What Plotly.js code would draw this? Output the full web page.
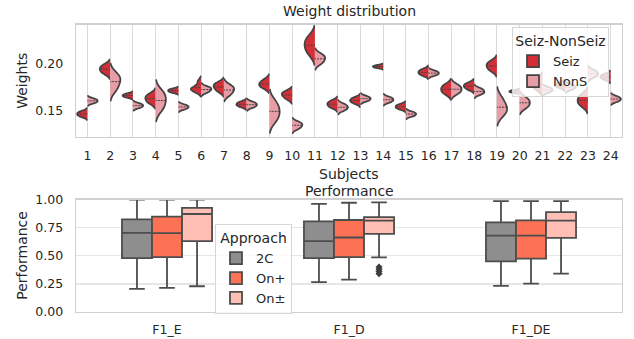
<!DOCTYPE html>
<html><head><meta charset="utf-8">
<script src="https://cdn.plot.ly/plotly-3.0.1.min.js"></script>
<style>html,body{margin:0;padding:0;background:#fff}#chart{width:634px;height:339px}</style>
</head><body><div id="chart"></div>
<script>
// ---------- Top panel: weight distribution per subject ----------
const subjects = ['1','2','3','4','5','6','7','8','9','10','11','12','13','14','15','16','17','18','19','20','21','22','23','24'];
const seizSamples = [
  [0.1440,0.1454,0.1468,0.1482,0.1496],
  [0.1892,0.1915,0.1940,0.1961,0.1984],
  [0.1643,0.1652,0.1662,0.1672,0.1681],
  [0.1582,0.1606,0.1632,0.1654,0.1678],
  [0.1694,0.1703,0.1713,0.1723,0.1732],
  [0.1705,0.1722,0.1735,0.1750,0.1810],
  [0.1705,0.1729,0.1758,0.1775,0.1795],
  [0.1543,0.1557,0.1570,0.1583,0.1597],
  [0.1740,0.1762,0.1782,0.1800,0.1830],
  [0.1625,0.1650,0.1672,0.1690,0.1705],
  [0.2095,0.2145,0.2192,0.2235,0.2280],
  [0.1535,0.1553,0.1572,0.1589,0.1607],
  [0.1579,0.1595,0.1610,0.1625,0.1641],
  [0.1952,0.1959,0.1966,0.1973,0.1980],
  [0.1518,0.1531,0.1544,0.1557,0.1570],
  [0.1873,0.1889,0.1905,0.1921,0.1937],
  [0.1677,0.1702,0.1727,0.1752,0.1777],
  [0.1726,0.1743,0.1762,0.1777,0.1794],
  [0.1922,0.1947,0.1975,0.1997,0.2022],
  [0.1691,0.1698,0.1705,0.1712,0.1719],
  [0.1726,0.1753,0.1780,0.1807,0.1834],
  [0.1745,0.1758,0.1772,0.1786,0.1799],
  [0.1551,0.1582,0.1610,0.1644,0.1675],
  [0.1828,0.1844,0.1858,0.1872,0.1888]
];
const nonsSamples = [
  [0.1582,0.1594,0.1606,0.1618,0.1630],
  [0.1715,0.1765,0.1820,0.1850,0.1890],
  [0.1532,0.1544,0.1556,0.1568,0.1580],
  [0.1510,0.1560,0.1615,0.1660,0.1705],
  [0.1518,0.1530,0.1542,0.1554,0.1566],
  [0.1692,0.1710,0.1728,0.1740,0.1754],
  [0.1665,0.1695,0.1725,0.1745,0.1770],
  [0.1537,0.1551,0.1566,0.1580,0.1594],
  [0.1395,0.1445,0.1495,0.1545,0.1600],
  [0.1312,0.1332,0.1352,0.1368,0.1384],
  [0.1995,0.2022,0.2050,0.2072,0.2095],
  [0.1505,0.1522,0.1539,0.1556,0.1573],
  [0.1603,0.1616,0.1629,0.1642,0.1655],
  [0.1590,0.1604,0.1618,0.1632,0.1646],
  [0.1444,0.1456,0.1468,0.1480,0.1492],
  [0.1873,0.1885,0.1897,0.1909,0.1921],
  [0.1682,0.1705,0.1728,0.1751,0.1774],
  [0.1673,0.1689,0.1703,0.1721,0.1737],
  [0.1455,0.1500,0.1530,0.1575,0.1640],
  [0.1532,0.1559,0.1586,0.1613,0.1640],
  [0.1693,0.1706,0.1720,0.1734,0.1747],
  [0.1723,0.1736,0.1750,0.1764,0.1777],
  [0.1854,0.1872,0.1890,0.1908,0.1926],
  [0.1597,0.1611,0.1625,0.1639,0.1653]
];
const classNames = ['Seiz','NonS'];
const classColors = ['#d42f37','#e89ca6'];

// ---------- Bottom panel: performance ----------
const metrics = ['F1_E','F1_D','F1_DE'];
const approaches = ['2C','On+','On\u00b1'];
const approachColors = ['#8e8e8e','#fd7254','#ffbfb4'];
const lowerFence = [[0.206,0.266,0.232],[0.214,0.288,0.253],[0.229,0.485,0.341]];
const q1Vals     = [[0.479,0.479,0.450],[0.488,0.488,0.474],[0.630,0.694,0.659]];
const medianVals = [[0.704,0.630,0.679],[0.702,0.662,0.679],[0.871,0.812,0.812]];
const q3Vals     = [[0.824,0.805,0.797],[0.847,0.818,0.815],[0.926,0.844,0.888]];
const upperFence = [[1.0,0.962,0.985],[1.0,0.971,0.985],[1.0,0.974,0.985]];
// outliers: [approach index, metric index, value]
const outlierApproach = [2, 2, 2, 2];
const outlierMetric   = [1, 1, 1, 1];
const outlierValues   = [0.400, 0.380, 0.360, 0.340];

const BOXGAP = 0.505;
const lineCol = '#434343';
const traces = [];
[seizSamples, nonsSamples].forEach((samples, k) => {
  subjects.forEach((s, i) => {
    traces.push({
      type: 'violin', xaxis: 'x', yaxis: 'y', legend: 'legend',
      x: samples[i].map(() => s), y: samples[i],
      name: classNames[k], showlegend: i === 0,
      side: k === 0 ? 'negative' : 'positive',
      scalegroup: classNames[k] + s, scalemode: 'width', width: 0.9,
      spanmode: 'soft', points: false,
      fillcolor: classColors[k], line: {color: lineCol, width: 1.75},
      meanline: {visible: true, color: lineCol, width: 1},
      box: {visible: false}, hoverinfo: 'skip'
    });
  });
});
approaches.forEach((a, k) => {
  traces.push({
    type: 'box', xaxis: 'x2', yaxis: 'y2', legend: 'legend2',
    name: a, x: metrics,
    lowerfence: lowerFence[k], q1: q1Vals[k], median: medianVals[k],
    q3: q3Vals[k], upperfence: upperFence[k],
    boxpoints: false,
    fillcolor: approachColors[k], line: {color: '#4d4d4d', width: 1.8},
    whiskerwidth: 0.52, hoverinfo: 'skip'
  });
});
// outlier markers on an overlaid numeric axis, dodged like the grouped boxes
const slot = (1 - BOXGAP) / approaches.length;
traces.push({
  type: 'scatter', mode: 'markers', xaxis: 'x3', yaxis: 'y2', showlegend: false,
  x: outlierMetric.map((m, i) => m + (outlierApproach[i] - (approaches.length - 1) / 2) * slot),
  y: outlierValues,
  marker: {symbol: 'diamond', size: 5.5, color: '#3d3d3d'}, hoverinfo: 'skip'
});

const W = 634, H = 339;
const px = v => v / W, py = v => 1 - v / H;
const frame = {showline: true, mirror: true, linecolor: '#d0d0d0', linewidth: 1.3, zeroline: false, ticks: '', fixedrange: true};
const layout = {
  width: W, height: H, margin: {l: 0, r: 0, t: 0, b: 0},
  paper_bgcolor: '#ffffff', plot_bgcolor: '#ffffff',
  font: {family: 'DejaVu Sans, sans-serif', size: 12.5, color: '#262626'},
  hovermode: false, showlegend: true,
  violinmode: 'overlay', boxmode: 'group', boxgap: BOXGAP, boxgroupgap: 0,
  xaxis: Object.assign({}, frame, {domain: [px(76), px(622)], anchor: 'y', type: 'category',
    categoryorder: 'array', categoryarray: subjects, range: [-0.5, 23.5],
    showgrid: true, gridcolor: '#d9d9d9', gridwidth: 1.2, ticklabelstandoff: 7}),
  yaxis: Object.assign({}, frame, {domain: [py(137), py(24.5)], anchor: 'x',
    range: [0.1227, 0.2407], tickvals: [0.15, 0.20], ticktext: ['0.15', '0.20'],
    showgrid: false, ticklabelstandoff: 9}),
  xaxis2: Object.assign({}, frame, {domain: [px(76), px(622)], anchor: 'y2', type: 'category',
    categoryorder: 'array', categoryarray: metrics, range: [-0.5, 2.5],
    showgrid: false, ticklabelstandoff: 6}),
  xaxis3: {overlaying: 'x2', anchor: 'y2', range: [-0.5, 2.5], visible: false, fixedrange: true},
  yaxis2: Object.assign({}, frame, {domain: [py(312), py(199.5)], anchor: 'x2',
    range: [0, 1], tickvals: [0, 0.25, 0.5, 0.75, 1], ticktext: ['0.00', '0.25', '0.50', '0.75', '1.00'],
    showgrid: true, gridcolor: '#e6e6e6', gridwidth: 1.3, ticklabelstandoff: 9}),
  legend: {x: px(512), y: py(27), xanchor: 'left', yanchor: 'top',
    bgcolor: 'rgba(255,255,255,0.8)', bordercolor: '#d6d6d6', borderwidth: 1,
    font: {size: 13}, title: {text: 'Seiz-NonSeiz', font: {size: 14}, side: 'top center'},
    tracegroupgap: 0},
  legend2: {x: px(215), y: py(224), xanchor: 'left', yanchor: 'top',
    bgcolor: 'rgba(255,255,255,0.8)', bordercolor: '#d6d6d6', borderwidth: 1,
    font: {size: 13}, title: {text: 'Approach', font: {size: 14}, side: 'top center'},
    tracegroupgap: 0},
  annotations: [
    {text: 'Weight distribution', x: px(349), y: py(11)},
    {text: 'Subjects', x: px(349), y: py(174)},
    {text: 'Performance', x: px(349), y: py(191)},
    {text: 'Weights', x: px(22), y: py(80.8), textangle: -90},
    {text: 'Performance', x: px(22), y: py(255.8), textangle: -90}
  ].map(a => Object.assign({xref: 'paper', yref: 'paper', showarrow: false,
    xanchor: 'center', yanchor: 'middle', font: {size: 14, color: '#262626'}}, a))
};
Plotly.newPlot('chart', traces, layout, {staticPlot: true, displayModeBar: false});
</script></body></html>
